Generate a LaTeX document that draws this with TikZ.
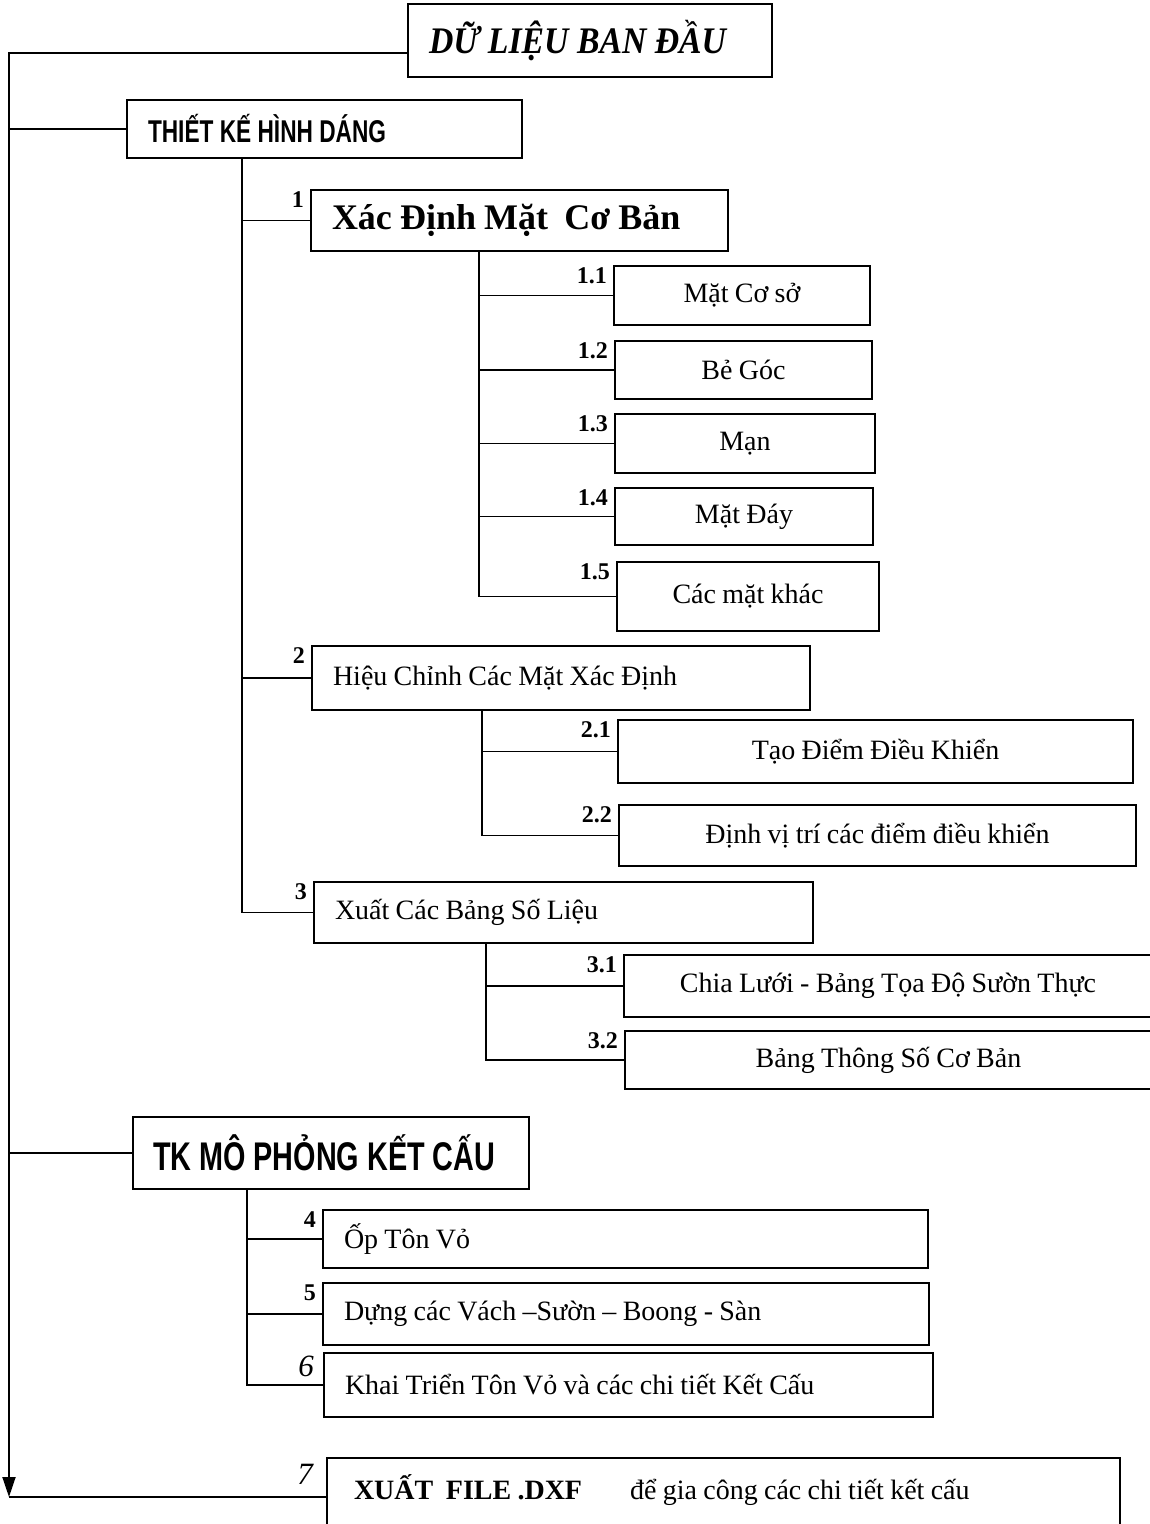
\documentclass[tikz,border=0pt]{standalone}
\usepackage{fontspec}
\setmainfont{Liberation Serif}[WordSpace=0.9]
\newfontfamily\narrowserif[FakeStretch=0.9]{Liberation Serif}
\newfontfamily\narrowsans[FakeStretch=0.72]{Liberation Sans}
\usetikzlibrary{arrows.meta}

\begin{document}
\begin{tikzpicture}[
    x=1pt, y=-1pt,
    box/.style={draw, line width=1.8pt, inner sep=0pt, font=\fontsize{28}{32}\selectfont},
    lbox/.style={box, align=flush left, inner xsep=21pt},
    lab/.style={anchor=north east, inner sep=2pt, xshift=-4pt, font=\bfseries\fontsize{24}{26}\selectfont},
    ilab/.style={lab, xshift=-3pt, yshift=-2pt, font=\itshape\fontsize{31}{34}\selectfont},
    tree/.style={line width=1.8pt},
    arr/.style={tree, -{Triangle[length=20pt, width=13pt]}},
]
\useasboundingbox (0,0) rectangle (1150,1524);

% Top: source data
\node[lbox, text width=322pt, minimum height=73pt,
      font=\narrowserif\bfseries\itshape\fontsize{37.5}{40}\selectfont] (dl) at (590,40.5) {DỮ LIỆU BAN ĐẦU};

% --- Hull form design ---
\node[lbox, text width=353pt, minimum height=58pt,
      font=\narrowsans\bfseries\fontsize{31.5}{34}\selectfont] (thk) at (324.5,129) {THIẾT KẾ HÌNH DÁNG};

% 1: base surfaces
\node[lbox, text width=375pt, minimum height=61pt, font=\bfseries\fontsize{36}{40}\selectfont,
      label={[lab]north west:1}] (b1) at (519.5,220.5) {Xác Định Mặt~ Cơ Bản};
\node[box, minimum width=256pt, minimum height=59pt, label={[lab]north west:1.1}] (b11) at (742,295.5) {Mặt Cơ sở};
\node[box, minimum width=257pt, minimum height=58pt, label={[lab]north west:1.2}] (b12) at (743.5,370) {Bẻ Góc};
\node[box, minimum width=260pt, minimum height=59pt, label={[lab]north west:1.3}] (b13) at (745,443.5) {Mạn};
\node[box, minimum width=258pt, minimum height=57pt, label={[lab]north west:1.4}] (b14) at (744,516.5) {Mặt Đáy};
\node[box, minimum width=262pt, minimum height=69pt, label={[lab]north west:1.5}] (b15) at (748,596.5) {Các mặt khác};

% 2: fairing
\node[lbox, text width=456pt, minimum height=64pt, label={[lab]north west:2}] (b2) at (561,678) {Hiệu Chỉnh Các Mặt Xác Định};
\node[box, minimum width=515pt, minimum height=63pt, label={[lab]north west:2.1}] (b21) at (875.5,751.5) {Tạo Điểm Điều Khiển};
\node[box, minimum width=517pt, minimum height=61pt, label={[lab]north west:2.2}] (b22) at (877.5,835.5) {Định vị trí các điểm điều khiển};

% 3: tables
\node[lbox, text width=457pt, minimum height=61pt, label={[lab]north west:3}] (b3) at (563.5,912.5) {Xuất Các Bảng Số Liệu};
\node[box, minimum width=528pt, minimum height=62pt, label={[lab]north west:3.1}] (b31) at (888,986) {Chia Lưới - Bảng Tọa Độ Sườn Thực};
\node[box, minimum width=527pt, minimum height=58pt, label={[lab]north west:3.2}] (b32) at (888.5,1060) {Bảng Thông Số Cơ Bản};

% --- Structure modelling ---
\node[lbox, text width=356pt, inner xsep=20pt, minimum height=72pt,
      font=\narrowsans\bfseries\fontsize{40}{44}\selectfont] (tk) at (331,1153) {TK MÔ PHỎNG KẾT CẤU};
\node[lbox, text width=563pt, minimum height=58pt, label={[lab]north west:4}] (b4) at (625.5,1239) {Ốp Tôn Vỏ};
\node[lbox, text width=564pt, minimum height=62pt, label={[lab]north west:5}] (b5) at (626,1314) {Dựng các Vách –Sườn – Boong - Sàn};
\node[lbox, text width=567pt, minimum height=64pt, label={[ilab]north west:6}] (b6) at (628.5,1385) {Khai Triển Tôn Vỏ và các chi tiết Kết Cấu};

% 7: export
\node[lbox, text width=751pt, minimum height=82pt, text depth=24pt,
      label={[ilab, xshift=-4pt, yshift=-3pt]north west:7}] (b7) at (723.5,1499)
     {\hspace{6pt}{\bfseries XUẤT~ FILE .DXF}\hspace{48pt}để gia công các chi tiết kết cấu};

% Left spine
\coordinate (tip) at (9,1497);
\draw[arr] ([yshift=-12.5pt]dl.west) -| (tip);
\draw[tree] (tip) -- (tip -| b7.west);
\foreach \n in {thk,tk}
    \draw[tree] (\n.west) -- (\n.west -| tip);

% Branches
\foreach \n in {b1,b2,b3}
    \draw[tree] ([xshift=116pt]thk.south west) |- (\n.west);
\foreach \n in {b11,b12,b13,b14,b15}
    \draw[tree] ([xshift=169pt]b1.south west) |- (\n.west);
\foreach \n in {b21,b22}
    \draw[tree] ([xshift=171pt]b2.south west) |- (\n.west);
\foreach \n in {b31,b32}
    \draw[tree] ([xshift=173pt]b3.south west) |- (\n.west);
\foreach \n in {b4,b5,b6}
    \draw[tree] ([xshift=115pt]tk.south west) |- (\n.west);
\end{tikzpicture}
\end{document}
